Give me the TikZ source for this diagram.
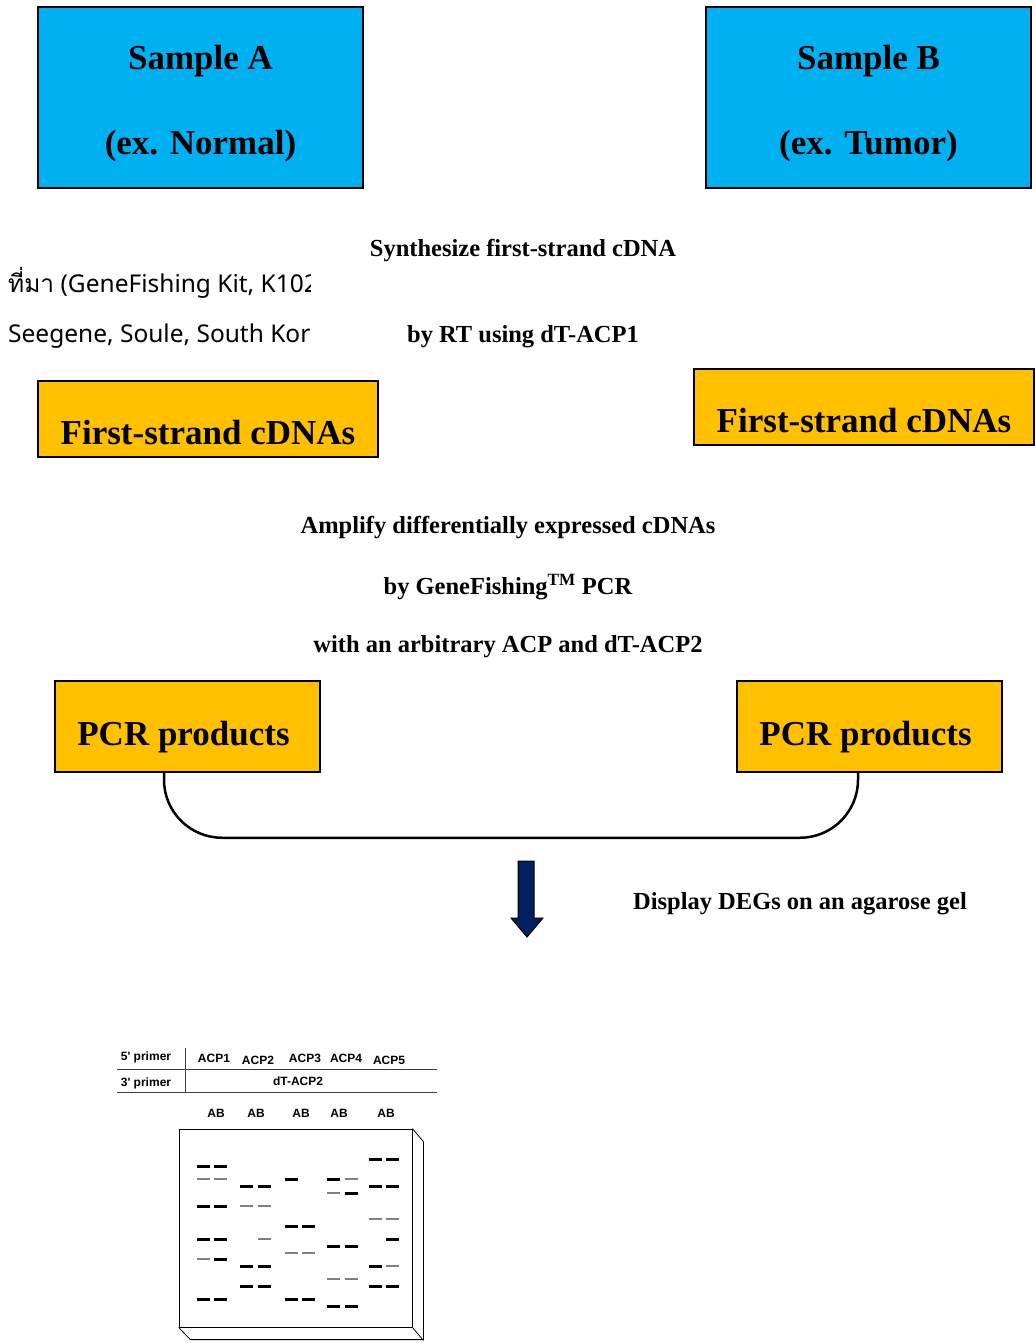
\documentclass[tikz,border=0pt]{standalone}
\usepackage{fontspec}
\setmainfont{Liberation Serif}
\newfontfamily\thaifont[Script=Thai]{Loma}
\newfontfamily\srcfont{Noto Sans}
\newfontfamily\gelfont{Liberation Sans}
\definecolor{samplecyan}{HTML}{00B0F0}
\definecolor{stepgold}{HTML}{FFC000}
\definecolor{arrownavy}{HTML}{002060}

\begin{document}
\begin{tikzpicture}[x=1pt,y=-1pt,
  samplebox/.style={draw,line width=1.5pt,fill=samplecyan,minimum width=325pt,minimum height=181pt,align=center,font=\fontsize{35}{85}\selectfont\bfseries},
  stepbox/.style={draw,line width=1.5pt,fill=stepgold,inner sep=0pt,font=\fontsize{35}{42}\selectfont\bfseries},
  note/.style={font=\fontsize{24.5}{30}\selectfont\bfseries},
  src/.style={anchor=west,inner sep=0pt,font=\fontsize{24.5}{30}\selectfont\srcfont},
  geltext/.style={inner sep=0pt,font=\fontsize{12}{14}\selectfont\gelfont\bfseries},
  band/.style={line width=3pt},
  faint/.style={line width=1.3pt,gray}]
\fill[white] (0,0) rectangle (1033,1343);

% the two samples
\node[samplebox] (sampleA) at (200.5,97.5) {\rule{0pt}{37pt}Sample A\\(ex. Normal)};
\node[samplebox] (sampleB) at (868.5,97.5) {\rule{0pt}{37pt}Sample B\\(ex. Tumor)};
\node[note] (rt1) at (523,251) {Synthesize first-strand cDNA};
\node[note] (rt2) at (523,337) {by RT using dT-ACP1};
\begin{scope}
  \clip (0,255) rectangle (310,360);
  \node[src] (srcA) at (8,283) {{\thaifont ที่มา} (GeneFishing Kit, K1021,};
  \node[src] (srcB) at (8,336) {Seegene, Soule, South Korea)};
\end{scope}

% cDNA and PCR steps
\node[stepbox,minimum width=340pt,minimum height=76pt,text height=50pt,text depth=0pt] (cdnaA) at (208,419) {First-strand cDNAs};
\node[stepbox,minimum width=340pt,minimum height=76pt,text height=50pt,text depth=0pt] (cdnaB) at (864,407) {First-strand cDNAs};
\node[note] (amp1) at (508,528) {Amplify differentially expressed cDNAs};
\node[note] (amp2) at (508,587) {by GeneFishing\textsuperscript{TM} PCR};
\node[note] (amp3) at (508,647) {with an arbitrary ACP and dT-ACP2};
\node[stepbox,minimum width=265pt,minimum height=91pt,text height=44pt,text depth=7pt] (pcrA) at (187.5,726.5) {PCR products\hspace*{8pt}};
\node[stepbox,minimum width=265pt,minimum height=91pt,text height=44pt,text depth=7pt] (pcrB) at (869.5,726.5) {PCR products\hspace*{8pt}};
\draw[line width=2.5pt,rounded corners=58pt] ([xshift=-23.5pt]pcrA.south) -- ++(0,65) -| ([xshift=-11.5pt]pcrB.south);
\filldraw[fill=arrownavy,line width=1pt] (518,861) -- (534,861) -- (534,918) -- (543,918) -- (527,937) -- (511,918) -- (518,918) -- cycle;
\node[note] (display) at (800,904) {Display DEGs on an agarose gel};

% primer table
\node[geltext] (p5) at (146,1057) {5' primer};
\node[geltext] (p3) at (146,1083) {3' primer};
\foreach \x/\y/\n in {214/1058/1,258/1060/2,305/1058/3,346/1058/4,389/1060/5}
  \node[geltext] (acp\n) at (\x,\y) {ACP\n};
\node[geltext] (dt) at (298,1081) {dT-ACP2};
\foreach \x in {216,256,301,339,386}
  \node[geltext] (ab\x) at (\x,1113) {AB};
\draw[line width=0.9pt,black!75] (117,1069) -- (437,1069) (117,1092) -- (437,1092) (185,1048) -- (185,1092);

% gel slab
\node[draw,line width=0.8pt,minimum width=233pt,minimum height=198pt,inner sep=0pt] (gel) at (295.5,1228) {};
\draw[line width=0.8pt] (gel.north east) -- ++(11,13) -- ++(0,198) -- ++(-233,0) -- (gel.south west);
\draw[line width=0.8pt] (gel.south east) -- ++(11,13);
\foreach \x/\y in {203/1166,220/1166,203/1206,220/1206,203/1239,220/1239,220/1259,203/1299,220/1299,
  246/1186,264/1186,246/1266,264/1266,246/1286,264/1286,
  291/1179,291/1226,308/1226,291/1299,308/1299,
  333/1179,351/1193,333/1246,351/1246,333/1306,351/1306,
  375/1159,392/1159,375/1186,392/1186,392/1239,375/1266,375/1286,392/1286}
  \draw[band] (\x-6.5,\y) -- +(13,0);
\foreach \x/\y in {203/1179,220/1179,203/1259,246/1206,264/1206,264/1239,291/1253,308/1253,
  351/1179,333/1193,333/1279,351/1279,375/1219,392/1219,392/1266}
  \draw[faint] (\x-6.5,\y) -- +(13,0);
\end{tikzpicture}
\end{document}
